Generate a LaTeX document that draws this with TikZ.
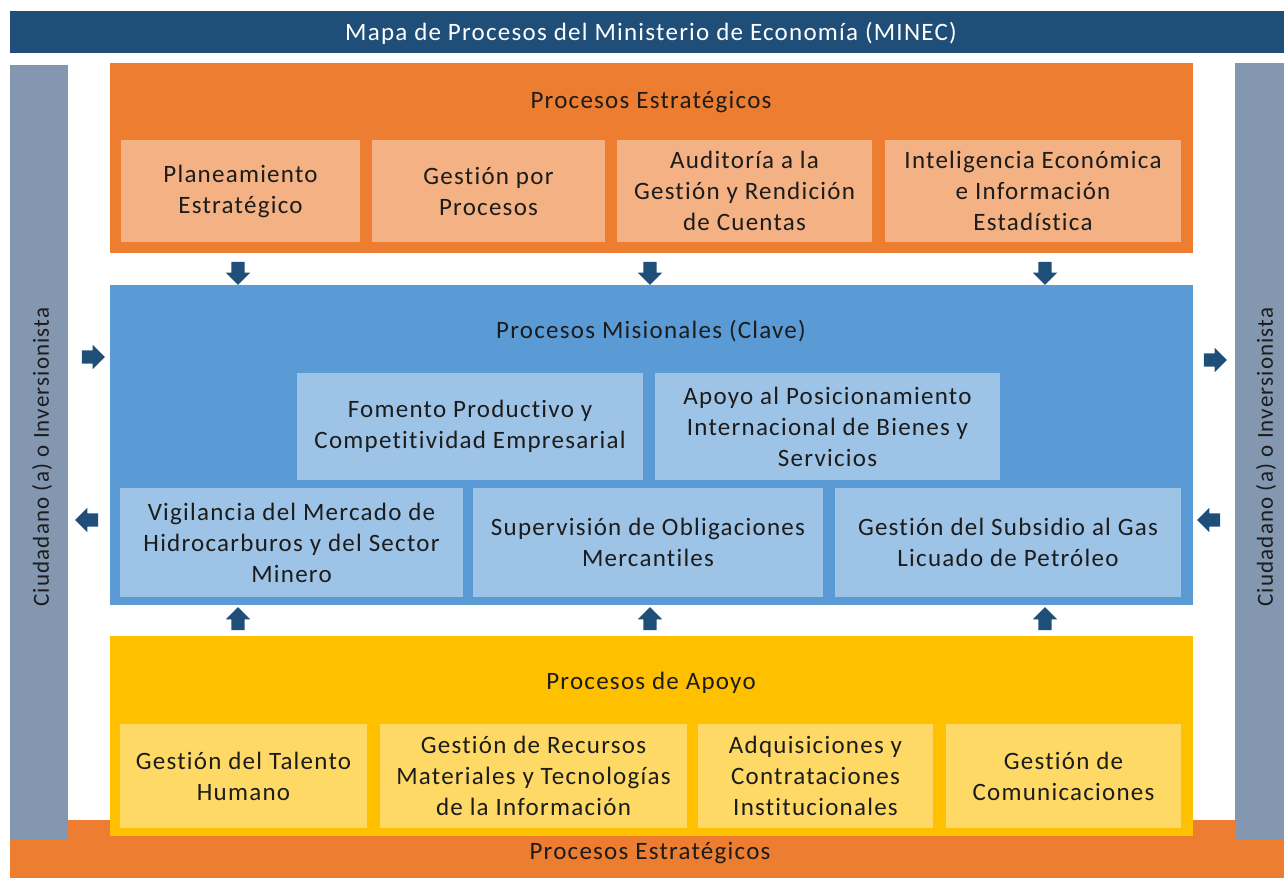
\documentclass[tikz,border=0pt]{standalone}
\usepackage{fontspec}
\setmainfont{Carlito}[LetterSpace=5,Ligatures=NoCommon]
\usetikzlibrary{shapes.arrows}
\definecolor{topblue}{HTML}{1F4E79}
\definecolor{sidegray}{HTML}{8497B0}
\definecolor{orangeM}{HTML}{ED7D31}
\definecolor{orangeL}{HTML}{F4B183}
\definecolor{blueM}{HTML}{5B9BD5}
\definecolor{blueL}{HTML}{9DC3E6}
\definecolor{yellowM}{HTML}{FFC000}
\definecolor{yellowL}{HTML}{FFD966}
\definecolor{txt}{HTML}{1C1C1C}
\tikzset{
  band/.style={inner sep=0, outer sep=0},
  sub/.style={inner sep=0, outer sep=0, align=center, text=txt,
    font=\fontsize{25}{31}\selectfont},
  ttl/.style={inner sep=0, text=txt, font=\fontsize{25}{30}\selectfont},
  blk/.style={single arrow, fill=topblue, draw=none, inner xsep=0pt, inner ysep=6.5pt,
    minimum height=23pt, single arrow head extend=5.5pt,
    single arrow head indent=0pt},
  sidetxt/.style={inner sep=0, rotate=90, text=txt, font=\fontsize{23}{26}\selectfont}
}
\begin{document}
\begin{tikzpicture}[x=1pt,y=-1pt]
\useasboundingbox (0,0) rectangle (1284,878);
% bottom band
\node[band, fill=orangeM, minimum width=1274pt, minimum height=58pt] (bot) at (647,849) {};
\node[ttl] (bottxt) at (650,853) {Procesos Estratégicos};
% top band
\node[band, fill=topblue, minimum width=1274pt, minimum height=42pt] (top) at (647,32) {};
\node[inner sep=0, text=white, font=\fontsize{25}{28}\selectfont] (toptxt) at (651,33) {Mapa de Procesos del Ministerio de Economía (MINEC)};
% side bars
\node[band, fill=sidegray, minimum width=58pt, minimum height=775pt] (left) at (39,452.5) {};
\node[sidetxt] (lefttxt) at (42,457) {Ciudadano (a) o Inversionista};
\node[band, fill=sidegray, minimum width=49pt, minimum height=777pt] (right) at (1259.5,451.5) {};
\node[sidetxt] (righttxt) at (1266,457) {Ciudadano (a) o Inversionista};
% strategic
\node[band, fill=orangeM, minimum width=1083pt, minimum height=190pt] (est) at (651.5,158) {};
\node[ttl] (esttl) at (651,102) {Procesos Estratégicos};
\node[sub, fill=orangeL, minimum width=239pt, minimum height=102pt] (e1) at (240.5,191) {Planeamiento\\Estratégico};
\node[sub, fill=orangeL, minimum width=233pt, minimum height=102pt] (e2) at (488.5,191) {Gestión por\\Procesos};
\node[sub, fill=orangeL, minimum width=255pt, minimum height=102pt] (e3) at (744.5,191) {Auditoría a la\\Gestión y Rendición\\de Cuentas};
\node[sub, fill=orangeL, minimum width=296pt, minimum height=102pt] (e4) at (1033,191) {Inteligencia Económica\\e Información\\Estadística};
% missional
\node[band, fill=blueM, minimum width=1083pt, minimum height=320pt] (mis) at (651.5,445) {};
\node[ttl] (mistl) at (651,331) {Procesos Misionales (Clave)};
\node[sub, fill=blueL, minimum width=346pt, minimum height=107pt] (m1) at (470,426.5) {Fomento Productivo y\\Competitividad Empresarial};
\node[sub, fill=blueL, minimum width=345pt, minimum height=107pt] (m2) at (827.5,426.5) {Apoyo al Posicionamiento\\Internacional de Bienes y\\Servicios};
\node[sub, fill=blueL, minimum width=343pt, minimum height=109pt] (m3) at (291.5,542.5) {Vigilancia del Mercado de\\Hidrocarburos y del Sector\\Minero};
\node[sub, fill=blueL, minimum width=350pt, minimum height=109pt] (m4) at (648,542.5) {Supervisión de Obligaciones\\Mercantiles};
\node[sub, fill=blueL, minimum width=346pt, minimum height=109pt] (m5) at (1008,542.5) {Gestión del Subsidio al Gas\\Licuado de Petróleo};
% support
\node[band, fill=yellowM, minimum width=1083pt, minimum height=200pt] (apo) at (651.5,736) {};
\node[ttl] (apotl) at (651,683) {Procesos de Apoyo};
\node[sub, fill=yellowL, minimum width=247pt, minimum height=104pt] (a1) at (243.5,776) {Gestión del Talento\\Humano};
\node[sub, fill=yellowL, minimum width=307pt, minimum height=104pt] (a2) at (533.5,776) {Gestión de Recursos\\Materiales y Tecnologías\\de la Información};
\node[sub, fill=yellowL, minimum width=235pt, minimum height=104pt] (a3) at (815.5,776) {Adquisiciones y\\Contrataciones\\Institucionales};
\node[sub, fill=yellowL, minimum width=235pt, minimum height=104pt] (a4) at (1063.5,776) {Gestión de\\Comunicaciones};
% arrows down
\node[blk, rotate=-90] (d1) at (238,270) {};
\node[blk, rotate=-90] (d2) at (650,270) {};
\node[blk, rotate=-90] (d3) at (1045,270) {};
% arrows up
\node[blk, rotate=90] (u1) at (238,622) {};
\node[blk, rotate=90] (u2) at (650,622) {};
\node[blk, rotate=90] (u3) at (1045,622) {};
% side arrows
\node[blk] (l1) at (90,357) {};
\node[blk, rotate=180] (l2) at (90,520) {};
\node[blk] (r1) at (1212,360) {};
\node[blk, rotate=180] (r2) at (1212,520) {};
\end{tikzpicture}
\end{document}
